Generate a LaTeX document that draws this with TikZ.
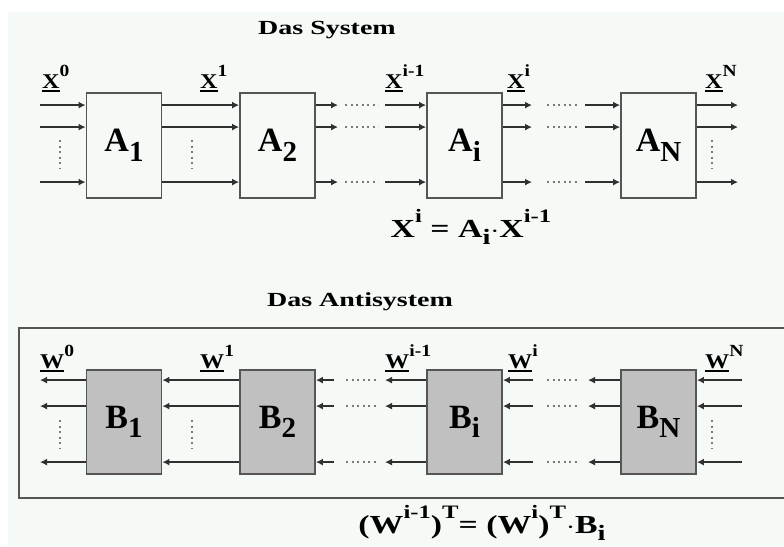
\documentclass[tikz,border=0pt]{standalone}
\usepackage{fontspec}
\setmainfont{Liberation Serif}
\usetikzlibrary{arrows.meta,positioning,calc}
\definecolor{bgc}{HTML}{F5FAF6}
\definecolor{linec}{HTML}{303030}
\definecolor{boxc}{HTML}{555555}
\definecolor{fillc}{HTML}{C0C0C0}
\definecolor{dotc}{HTML}{7A7A7A}
\newcommand{\supb}[2][17]{\raisebox{0.55em}{\fontsize{#1}{#1}\selectfont #2}}
\newcommand{\subb}[2][29]{\raisebox{-0.28em}{\fontsize{#1}{#1}\selectfont #2}}
\newcommand{\vecl}[1]{\setbox0\hbox{#1}\rlap{\rule[-4pt]{\wd0}{1.8pt}}\box0}
\tikzset{
  title/.style={inner sep=0pt, font=\bfseries\fontsize{20}{24}\selectfont, xscale=1.4},
  blk/.style={draw=boxc, line width=1.8pt, minimum width=75pt,
    minimum height=105pt, inner sep=0pt,
    font=\bfseries\fontsize{34}{34}\selectfont},
  fwd/.style={blk},
  bwd/.style={blk, fill=fillc, minimum height=104pt},
  lbl/.style={anchor=base west, inner sep=0pt,
    font=\bfseries\fontsize{21}{21}\selectfont, xscale=1.15},
  eqn/.style={inner sep=0pt, font=\bfseries\fontsize{26}{26}\selectfont},
  sig/.style={draw=linec, line width=1.8pt, -{Latex[length=7pt,width=7pt]}},
  gap/.style={dotc, line width=1.8pt, dash pattern=on 2pt off 3.5pt},
  frm/.style={draw=boxc, line width=1.8pt},
  >=Stealth}

\begin{document}
\begin{tikzpicture}[x=1pt, y=-1pt]
  \useasboundingbox (0,0) rectangle (784,546);
  \fill[bgc] (8,12) rectangle (784,546);
  % ---- the system: chain of blocks A_1 ... A_N
  \node[title] (sys) at (327,30) {Das System};
  \node[fwd] (A1) at (124,145.5) {A\subb{1}};
  \node[fwd] (A2) at (277.5,145.5) {A\subb{2}};
  \node[fwd] (Ai) at (464.5,145.5) {A\subb{i}};
  \node[fwd] (AN) at (658.5,145.5) {A\subb{N}};
  % free ends and gaps of the signal lines
  \coordinate (xin) at (40,0);
  \coordinate (g1) at (338,0);
  \coordinate (d1) at (345,0);
  \coordinate (d2) at (378,0);
  \coordinate (g2) at (385,0);
  \coordinate (g3) at (532,0);
  \coordinate (d3) at (547,0);
  \coordinate (d4) at (578,0);
  \coordinate (g4) at (585,0);
  \coordinate (xout) at (738,0);
  \foreach \r in {13,35,90}{
    \coordinate (row) at ([yshift=-\r pt]A1.north);
    \draw[sig] (xin |- row) -- (A1.west |- row);
    \draw[sig] (A1.east |- row) -- (A2.west |- row);
    \draw[sig] (A2.east |- row) -- (g1 |- row);
    \draw[gap] (d1 |- row) -- (d2 |- row);
    \draw[sig] (g2 |- row) -- (Ai.west |- row);
    \draw[sig] (Ai.east |- row) -- (g3 |- row);
    \draw[gap] (d3 |- row) -- (d4 |- row);
    \draw[sig] (g4 |- row) -- (AN.west |- row);
    \draw[sig] (AN.east |- row) -- (xout |- row);
  }
  \foreach \x in {60,192,712}
    \draw[gap] (\x,140) -- (\x,169);
  \node[lbl] (x0) at (42,88) {\vecl{X}\supb{0}};
  \node[lbl] (x1) at (200,88) {\vecl{X}\supb{1}};
  \node[lbl] (xim) at (385,88) {\vecl{X}\supb{i-1}};
  \node[lbl] (xi) at (507,88) {\vecl{X}\supb{i}};
  \node[lbl] (xN) at (705,88) {\vecl{X}\supb{N}};
  \node[eqn, xscale=1.3] (eqa) at (471,227)
    {X\supb[19]{i} = A\subb[22]{i}$\cdot$X\supb[19]{i-1}};
  % ---- the antisystem: same chain run backwards through B_1 ... B_N
  \node[title] (anti) at (360,302) {Das Antisystem};
  \draw[frm] (784,328) -- (19,328) -- (19,498) -- (784,498);
  \node[bwd] (B1) at (124,422) {B\subb{1}};
  \node[bwd] (B2) at (277.5,422) {B\subb{2}};
  \node[bwd] (Bi) at (464.5,422) {B\subb{i}};
  \node[bwd] (BN) at (658.5,422) {B\subb{N}};
  \coordinate (win) at (40,0);
  \coordinate (h1) at (334,0);
  \coordinate (e1) at (346,0);
  \coordinate (e2) at (378,0);
  \coordinate (h2) at (385,0);
  \coordinate (h3) at (533,0);
  \coordinate (e3) at (547,0);
  \coordinate (e4) at (578,0);
  \coordinate (h4) at (588,0);
  \coordinate (wout) at (742,0);
  \foreach \r in {11,37,93}{
    \coordinate (row) at ([yshift=-\r pt]B1.north);
    \draw[sig] (B1.west |- row) -- (win |- row);
    \draw[sig] (B2.west |- row) -- (B1.east |- row);
    \draw[sig] (h1 |- row) -- (B2.east |- row);
    \draw[gap] (e1 |- row) -- (e2 |- row);
    \draw[sig] (Bi.west |- row) -- (h2 |- row);
    \draw[sig] (h3 |- row) -- (Bi.east |- row);
    \draw[gap] (e3 |- row) -- (e4 |- row);
    \draw[sig] (BN.west |- row) -- (h4 |- row);
    \draw[sig] (wout |- row) -- (BN.east |- row);
  }
  \foreach \x in {60,192,712}
    \draw[gap] (\x,420) -- (\x,448);
  \node[lbl] (w0) at (40,368) {\vecl{W}\supb{0}};
  \node[lbl] (w1) at (200,368) {\vecl{W}\supb{1}};
  \node[lbl] (wim) at (385,368) {\vecl{W}\supb{i-1}};
  \node[lbl] (wi) at (508,368) {\vecl{W}\supb{i}};
  \node[lbl] (wN) at (705,368) {\vecl{W}\supb{N}};
  \node[eqn, xscale=1.3] (eqb) at (482,523)
    {(W\supb[19]{i-1})\supb[19]{T}= (W\supb[19]{i})\supb[19]{T}$\cdot$B\subb[22]{i}};
\end{tikzpicture}
\end{document}
